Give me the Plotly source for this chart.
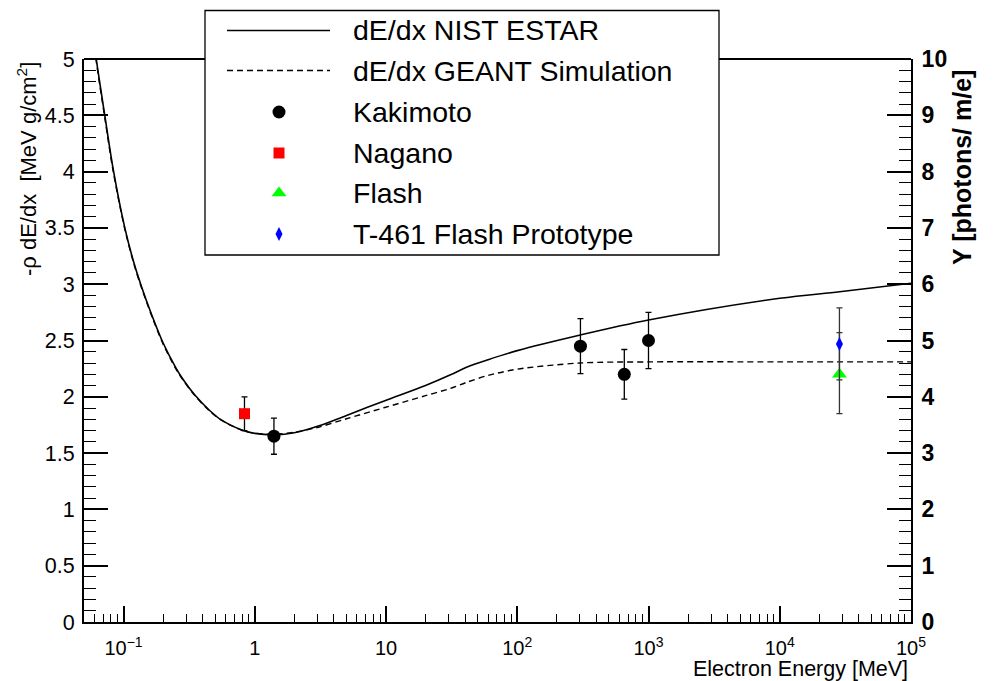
import plotly.graph_objects as go

# ---------------- data ----------------
nist_E = [0.055, 0.062, 0.072, 0.0835, 0.1023, 0.12, 0.137, 0.165, 0.2, 0.25, 0.282, 0.347, 0.447, 0.562, 0.794,
          1.0, 1.41, 2.0, 3.05, 5.0, 9.8, 20, 31, 41.5, 60, 100, 303, 1000, 1e4, 28600, 1e5]
nist_dEdx = [5.47, 5.0, 4.5, 4.02, 3.5, 3.19, 2.98, 2.72, 2.48, 2.26, 2.16, 2.02, 1.885, 1.79, 1.705,
             1.675, 1.662, 1.68, 1.74, 1.835, 1.965, 2.10, 2.195, 2.265, 2.33, 2.41, 2.549, 2.682, 2.875, 2.933,
             3.008]

geant_E = [0.055, 0.062, 0.072, 0.0835, 0.1023, 0.12, 0.137, 0.165, 0.2, 0.25, 0.282, 0.347, 0.447, 0.562, 0.794,
           1.0, 1.41, 2.0, 3.05, 5.0, 9.8, 20, 31, 41.5, 60, 100, 300, 1000, 1e4, 1e5]
geant_dEdx = [5.45, 4.98, 4.48, 4.0, 3.49, 3.18, 2.97, 2.71, 2.47, 2.25, 2.155, 2.015, 1.88, 1.79, 1.705,
              1.677, 1.667, 1.685, 1.73, 1.805, 1.905, 2.01, 2.075, 2.13, 2.19, 2.245, 2.30, 2.31, 2.31, 2.31]

kaki_E = [1.40, 303, 654, 1000]
kaki_y = [1.65, 2.45, 2.20, 2.50]
kaki_err = [0.16, 0.245, 0.22, 0.25]

nagano_E = [0.835]
nagano_y = [1.85]
nagano_err = [0.15]

flash_E = [28500]
flash_y = [2.20]
flash_err_plus = [0.37]
flash_err_minus = [0.35]

t461_E = [28500]
t461_y = [2.47]
t461_err = [0.32]

x_tickvals = [0.1, 1, 10, 100, 1000, 1e4, 1e5]
x_ticktext = ["10<sup>−1</sup>", "1", "10", "10<sup>2</sup>", "10<sup>3</sup>", "10<sup>4</sup>", "10<sup>5</sup>"]

legend_labels = ["dE/dx NIST ESTAR", "dE/dx GEANT Simulation", "Kakimoto", "Nagano", "Flash",
                 "T-461 Flash Prototype"]

# ---------------- geometry helpers ----------------
W, H = 993, 681
L, R, T, B = 84, 911, 59, 622


def px(x):
    return (x - L) / (R - L)


def py(y):
    return (B - y) / (B - T)


FONT = "Liberation Sans, Arial, Helvetica, sans-serif"

fig = go.Figure()

fig.add_trace(go.Scatter(x=nist_E, y=nist_dEdx, mode="lines",
                         line=dict(color="black", width=1.6, shape="spline", smoothing=0.9),
                         showlegend=False, hoverinfo="skip"))
fig.add_trace(go.Scatter(x=geant_E, y=geant_dEdx, mode="lines",
                         line=dict(color="black", width=1.4, dash="6px,4px", shape="spline", smoothing=0.9),
                         showlegend=False, hoverinfo="skip"))

fig.add_trace(go.Scatter(x=nagano_E, y=nagano_y, mode="markers",
                         marker=dict(symbol="square", size=11, color="#ff0000", opacity=1, line=dict(width=0)),
                         error_y=dict(type="data", array=nagano_err, color="black", thickness=1.3, width=3),
                         showlegend=False))
fig.add_trace(go.Scatter(x=kaki_E, y=kaki_y, mode="markers",
                         marker=dict(symbol="circle", size=13, color="black", opacity=1, line=dict(width=0)),
                         error_y=dict(type="data", array=kaki_err, color="black", thickness=1.3, width=3),
                         showlegend=False))
fig.add_trace(go.Scatter(x=flash_E, y=flash_y, mode="markers",
                         marker=dict(symbol="triangle-up", size=13, color="#00ff00", opacity=1, line=dict(width=0)),
                         error_y=dict(type="data", symmetric=False, array=flash_err_plus,
                                      arrayminus=flash_err_minus, color="#333333", thickness=1.3, width=3),
                         showlegend=False))
fig.add_trace(go.Scatter(x=t461_E, y=t461_y, mode="markers",
                         marker=dict(symbol="diamond-tall", size=10, color="#0000ff", opacity=1, line=dict(width=0)),
                         error_y=dict(type="data", array=t461_err, color="#333333", thickness=1.3, width=3),
                         showlegend=False))

# empty trace to activate the right axis
fig.add_trace(go.Scatter(x=[], y=[], yaxis="y2", showlegend=False))

# legend markers on a pixel-coordinate overlay
leg_rows = [30.5, 70.5, 112, 153, 193, 234]
leg_symbols = ["circle", "square", "triangle-up", "diamond-tall"]
leg_sizes = [13, 11, 13, 10]
leg_colors = ["black", "#ff0000", "#00ff00", "#0000ff"]
for sym, sz, col, r in zip(leg_symbols, leg_sizes, leg_colors, leg_rows[2:]):
    fig.add_trace(go.Scatter(x=[279], y=[r], xaxis="x3", yaxis="y3", mode="markers",
                             marker=dict(symbol=sym, size=sz, color=col, opacity=1, line=dict(width=0)),
                             cliponaxis=False, showlegend=False, hoverinfo="skip"))

shapes = []
# top frame line
shapes.append(dict(type="line", xref="paper", yref="paper", x0=0, x1=1, y0=1, y1=1,
                   line=dict(color="black", width=2), layer="below"))
# legend box
shapes.append(dict(type="rect", xref="paper", yref="paper", x0=px(205), x1=px(719), y0=py(10.5), y1=py(255),
                   fillcolor="white", line=dict(color="black", width=1.3), layer="below"))
shapes.append(dict(type="line", xref="paper", yref="paper", x0=px(227), x1=px(330), y0=py(leg_rows[0]),
                   y1=py(leg_rows[0]), line=dict(color="black", width=1.4), layer="below"))
shapes.append(dict(type="line", xref="paper", yref="paper", x0=px(227), x1=px(330), y0=py(leg_rows[1]),
                   y1=py(leg_rows[1]), line=dict(color="black", width=1.3, dash="6px,4px"), layer="below"))

annotations = []
for lab, r in zip(legend_labels, leg_rows):
    annotations.append(dict(text=lab, xref="paper", yref="paper", x=px(351), y=py(r), xanchor="left",
                            yanchor="middle", showarrow=False, font=dict(family=FONT, size=28.5, color="black")))

annotations.append(dict(text="-ρ dE/dx  [MeV g/cm<sup>2</sup>]", xref="paper", yref="paper", x=px(27), y=py(169),
                        textangle=-90, xanchor="center", yanchor="middle", showarrow=False,
                        font=dict(family=FONT, size=22, color="black")))
annotations.append(dict(text="<b>Y [photons/ m/e]</b>", xref="paper", yref="paper", x=px(962), y=py(168),
                        textangle=-90, xanchor="center", yanchor="middle", showarrow=False,
                        font=dict(family=FONT, size=25, color="black")))
annotations.append(dict(text="Electron Energy [MeV]", xref="paper", yref="paper", x=px(910), y=py(669),
                        xanchor="right", yanchor="middle", showarrow=False,
                        font=dict(family=FONT, size=21.5, color="black")))

minor_x = [m * 10 ** d for d in range(-2, 5) for m in range(2, 10) if 0.05 <= m * 10 ** d <= 1e5]

fig.update_layout(
    width=W, height=H, autosize=False,
    margin=dict(l=L, r=W - R, t=T, b=H - B, pad=0),
    paper_bgcolor="white", plot_bgcolor="white",
    showlegend=False,
    shapes=shapes, annotations=annotations,
    xaxis=dict(type="log", range=[-1.30103, 5], showgrid=False, zeroline=False,
               showline=True, linecolor="black", linewidth=2, mirror=False,
               tickmode="array", tickvals=x_tickvals, ticktext=x_ticktext,
               ticks="inside", ticklen=16, tickwidth=1.6, tickcolor="black",
               minor=dict(tickmode="array", tickvals=minor_x, ticks="inside", ticklen=8, tickwidth=1.4,
                          tickcolor="black", showgrid=False),
               tickfont=dict(family=FONT, size=20, color="black"), ticklabelstandoff=7),
    yaxis=dict(range=[0, 5], showgrid=False, zeroline=False, showline=True, linecolor="black", linewidth=2,
               tickmode="linear", tick0=0, dtick=0.5, ticks="inside", ticklen=24, tickwidth=1.6, tickcolor="black",
               minor=dict(dtick=0.1, ticks="inside", ticklen=12, tickwidth=1.4, tickcolor="black", showgrid=False),
               tickfont=dict(family=FONT, size=21.5, color="black"), ticklabelstandoff=3),
    yaxis2=dict(range=[0, 10], overlaying="y", side="right", anchor="x", showgrid=False, zeroline=False,
                showline=True, linecolor="black", linewidth=2,
                tickmode="linear", tick0=0, dtick=1, ticks="inside", ticklen=24, tickwidth=1.6, tickcolor="black",
                minor=dict(dtick=0.2, ticks="inside", ticklen=12, tickwidth=1.4, tickcolor="black",
                           showgrid=False),
                tickfont=dict(family=FONT, size=23, color="black", weight="bold"), ticklabelstandoff=4),
    xaxis3=dict(overlaying="x", range=[L, R], visible=False, anchor="y3"),
    yaxis3=dict(overlaying="y", range=[B, T], visible=False, anchor="x3"),
)

fig.write_html("out.html")
